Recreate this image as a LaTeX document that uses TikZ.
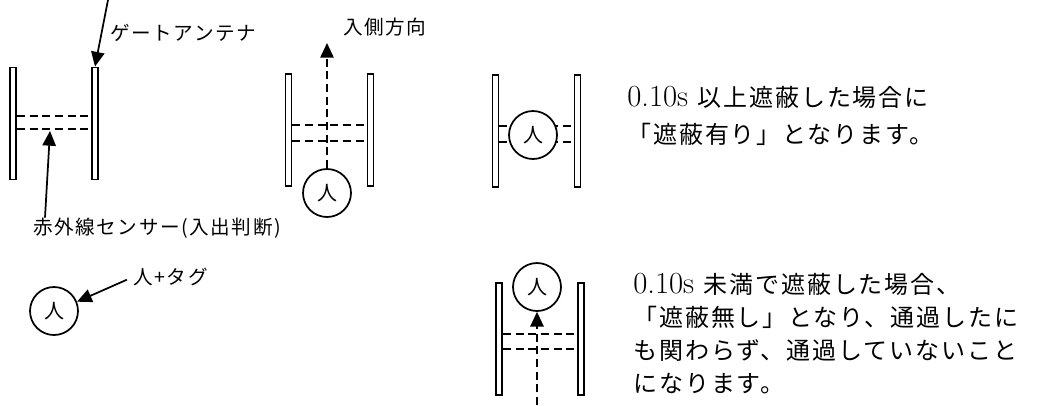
\documentclass[tikz,border=0pt]{standalone}
\usepackage{fontspec}
\usepackage{tikz}
\usetikzlibrary{arrows.meta}
\newfontfamily\jpfont[LetterSpace=8]{Noto Sans CJK JP}
\tikzset{
antenna/.style = { rectangle, draw = black, fill = white, line width = 1.4pt, minimum width = 4.5pt, minimum height = 84pt, inner sep = 0pt },
person/.style = { circle, draw = black, fill = white, line width = 1.3pt, minimum size = 36pt, inner sep = 0pt, font = \jpfont\fontsize{15}{18}\selectfont },
beam/.style = { draw = black, line width = 1.3pt, dash pattern = on 6pt off 3.5pt },
lbl/.style = { inner sep = 0pt, font = \jpfont\fontsize{14.7}{18}\selectfont },
note/.style = { inner sep = 0pt, align = left, anchor = north west },
}

\begin{document}
\begin{tikzpicture}[x=0.75pt, y=-0.75pt]
    \useasboundingbox (0,0) rectangle (1039,405);
    % gates
    \node[antenna] (g1l) at (13,123.5) {};
    \node[antenna] (g1r) at (95,123.5) {};
    \node[antenna] (g2l) at (288.5,130) {};
    \node[antenna] (g2r) at (370.5,130) {};
    \node[antenna] (g3l) at (495.5,131) {};
    \node[antenna] (g3r) at (577.5,131) {};
    \node[antenna] (g4l) at (499,339) {};
    \node[antenna] (g4r) at (581,339) {};
    % infrared beams
    \draw[beam] (g1l.east |- 0,116) -- (g1r.west |- 0,116);
    \draw[beam] (g1l.east |- 0,129) -- (g1r.west |- 0,129);
    \draw[beam] (g2l.east |- 0,125) -- (g2r.west |- 0,125);
    \draw[beam] (g2l.east |- 0,141) -- (g2r.west |- 0,141);
    \draw[beam] (g3l.east |- 0,126) -- (g3r.west |- 0,126);
    \draw[beam] (g3l.east |- 0,142) -- (g3r.west |- 0,142);
    \draw[beam] (g4l.east |- 0,334) -- (g4r.west |- 0,334);
    \draw[beam] (g4l.east |- 0,349) -- (g4r.west |- 0,349);
    % persons
    \node[person] (p0) at (54,311) {人};
    \node[person] (p2) at (327,193) {人};
    \node[person] (p3) at (533,135) {人};
    \node[person] (p4) at (537,287) {人};
    % labels
    \node[lbl, anchor = west] (antlbl) at (110,33) {ゲートアンテナ};
    \node[lbl, anchor = west] (dirlbl) at (343,27) {入側方向};
    \node[lbl] (sensorlbl) at (157,228) {赤外線センサー(入出判断)};
    \node[lbl, anchor = west] (taglbl) at (133,277) {人+タグ};
    \node[note, font = \jpfont\fontsize{18}{27.75}\selectfont] (note1) at (627,86)
      {{\rmfamily\fontsize{23}{23}\selectfont 0.10s }以上遮蔽した場合に\\「遮蔽有り」となります。};
    \node[note, font = \jpfont\fontsize{18}{24.75}\selectfont] (note2) at (633,273)
      {{\rmfamily\fontsize{23}{23}\selectfont 0.10s }未満で遮蔽した場合、\\「遮蔽無し」となり、通過したに\\も関わらず、通過していないこと\\になります。};
    \coordinate (top1) at (108,0);
    \coordinate (s1) at (50,131);
    \coordinate (d2) at (327,43);
    \coordinate (in4) at (537,405);
    % arrows
    \begin{scope}[>={Triangle[width=10pt, length=11pt]},
                  every edge/.style={draw=black, line width=1.3pt}]
      \path [->] (top1) edge (g1r.north);
      \path [->] (sensorlbl.north -| 45,0) edge (s1);
      \path [->] (taglbl.west) edge [shorten <=5pt] (p0.22);
      \path [->] (p2.north) edge [beam] (d2);
      \path [->] (in4) edge [beam] (p4.south);
    \end{scope}
\end{tikzpicture}
\end{document}
